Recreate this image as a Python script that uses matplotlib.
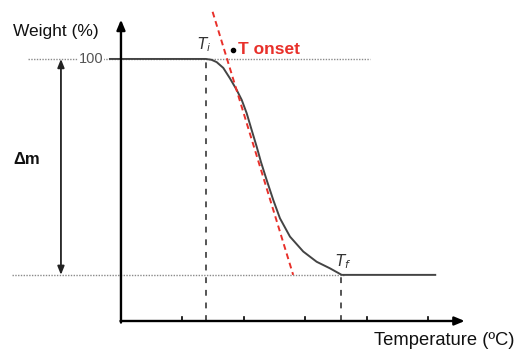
import matplotlib
matplotlib.use("Agg")
import matplotlib.pyplot as plt

plt.rcParams['font.family'] = ['Liberation Sans', 'DejaVu Sans']

# TGA curve (temperature in °C, weight in %)
temperature = [-18, 138, 147, 155.6, 166.3, 177.2, 188.1, 196.3, 204.4, 212.5, 220.7, 227.6,
               236.9, 247.6, 258.5, 274.8, 296.4, 318.2, 339.8, 358.9, 511]
weight = [100, 100, 99.7, 98.8, 96.6, 92.6, 88.2, 84.4, 79.3, 72.9, 66.5, 60.7,
          53.8, 46.2, 39.2, 32.2, 26.5, 22.6, 20.1, 17.6, 17.6]

# Onset tangent line end points
tangent_t = [149, 280]
tangent_w = [118, 17.6]

# Characteristic temperatures and weight levels
t_initial = 138
t_final = 358
w_start = 100
w_end = 17.6
x_ticks = [100, 200, 300, 400, 500]

fig = plt.figure(figsize=(5.15, 3.51), dpi=100)
ax = fig.add_axes([0, 0, 1, 1])
ax.set_xlim(-196.7, 640.7)
ax.set_ylim(-11.45, 122.5)
ax.axis('off')

# Reference levels
ax.plot([-151, 405], [w_start, w_start], color='#8a8a8a', lw=1.0, ls=(0, (1, 1)), zorder=1)
ax.plot([-177, 364], [w_end, w_end], color='#8a8a8a', lw=1.0, ls=(0, (1, 1)), zorder=1)

# Vertical markers at Ti and Tf
ax.plot([t_initial, t_initial], [0, w_start], color='#555555', lw=1.4, ls=(0, (3, 3.5)), zorder=2)
ax.plot([t_final, t_final], [0, w_end], color='#555555', lw=1.4, ls=(0, (3, 3.5)), zorder=2)

# Weight curve
ax.plot(temperature, weight, color='#444444', lw=1.4, zorder=3, solid_joinstyle='round')

# Onset tangent
ax.plot(tangent_t, tangent_w, color='#e8302a', lw=1.4, ls=(0, (3, 2)), zorder=4)

# Axes with arrows
arrow_kw = dict(arrowstyle='-|>,head_length=0.6,head_width=0.25', color='black', lw=1.7,
                shrinkA=0, shrinkB=0)
ax.annotate('', xy=(0, 115), xytext=(0, -0.6), arrowprops=arrow_kw, zorder=5)
ax.annotate('', xy=(559, 0), xytext=(-0.8, 0), arrowprops=arrow_kw, zorder=5)
for t in x_ticks:
    ax.plot([t, t], [0, 1.6], color='black', lw=1.2, zorder=5)

# Mass-loss double arrow
ax.annotate('', xy=(-97.6, w_end), xytext=(-97.6, w_start),
            arrowprops=dict(arrowstyle='<|-|>,head_length=0.5,head_width=0.2',
                            color='#222222', lw=1.3, shrinkA=0, shrinkB=0), zorder=5)

# Labels
ax.text(-175.6, 110.5, 'Weight (%)', fontsize=12.5, ha='left', va='center', color='#111111')
ax.text(-48, w_start, '100', fontsize=10.5, ha='center', va='center', color='#555555',
        bbox=dict(facecolor='white', edgecolor='none', pad=0.5), zorder=2)
ax.text(-175, 61.5, 'Δm', fontsize=12, fontweight='bold', ha='left', va='center', color='#111111')
ax.text(640, -7.5, 'Temperature (ºC)', fontsize=13.2, ha='right', va='center', color='#111111')
ax.text(t_initial - 3, 105.5, '$T_i$', fontsize=11, ha='center', va='center', color='#333333')
ax.text(t_final + 3, 22.5, '$T_f$', fontsize=11, ha='center', va='center', color='#333333')
ax.plot([182], [103.4], marker='o', ms=3, color='black', zorder=6)
ax.text(191, 103.6, 'T onset', fontsize=12.5, fontweight='bold', ha='left', va='center',
        color='#e8302a')

fig.savefig('out.png', dpi=100)
